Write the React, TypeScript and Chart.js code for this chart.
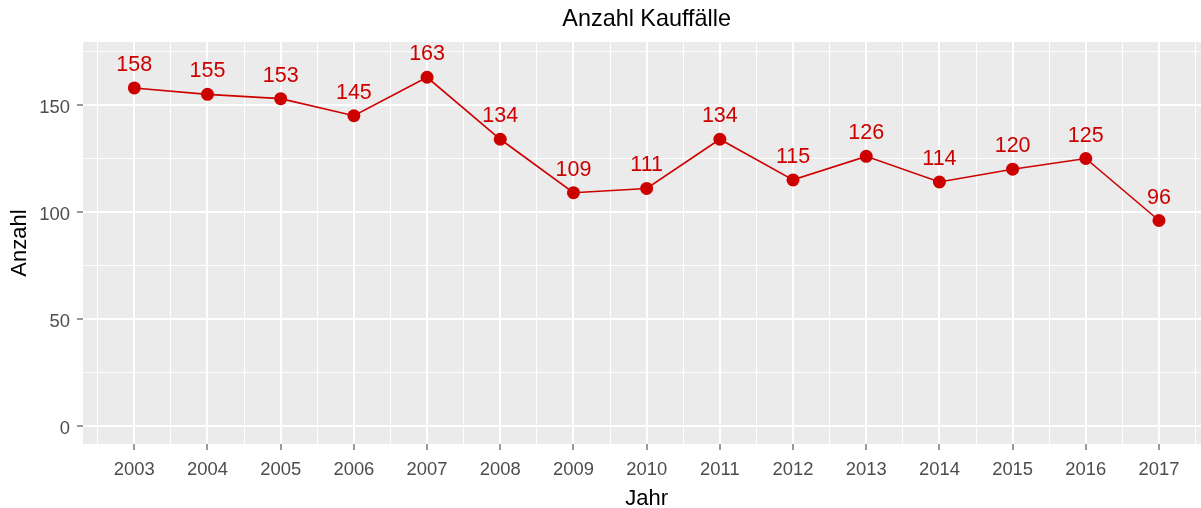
import React, { useEffect, useRef } from "react";
import { Chart, registerables } from "chart.js";

Chart.register(...registerables);

const years = [2003, 2004, 2005, 2006, 2007, 2008, 2009, 2010, 2011, 2012, 2013, 2014, 2015, 2016, 2017];
const counts = [158, 155, 153, 145, 163, 134, 109, 111, 134, 115, 126, 114, 120, 125, 96];
const yTicks = [0, 25, 50, 75, 100, 125, 150, 175];
const xTicks = [2002.5, 2003, 2003.5, 2004, 2004.5, 2005, 2005.5, 2006, 2006.5, 2007, 2007.5, 2008, 2008.5, 2009, 2009.5, 2010, 2010.5, 2011, 2011.5, 2012, 2012.5, 2013, 2013.5, 2014, 2014.5, 2015, 2015.5, 2016, 2016.5, 2017, 2017.5];
const titleText = "Anzahl Kauffälle";
const xTitleText = "Jahr";
const yTitleText = "Anzahl";

const RED = "#CD0000";
const FONT = "'Liberation Sans', Arial, sans-serif";

const panelBg = {
  id: "panelBg",
  beforeDraw(chart: any) {
    const { ctx, chartArea } = chart;
    ctx.save();
    ctx.fillStyle = "#EBEBEB";
    ctx.fillRect(chartArea.left, chartArea.top, chartArea.right - chartArea.left, chartArea.bottom - chartArea.top);
    ctx.restore();
  },
};

const plotTitles = {
  id: "plotTitles",
  afterDraw(chart: any) {
    const { ctx } = chart;
    const xs = chart.scales.x;
    // centre over the full (expanded) panel, which extends past the canvas edge
    const cx = (xs.getPixelForValue(2002.3) + xs.getPixelForValue(2017.7)) / 2;
    ctx.save();
    ctx.fillStyle = "#000000";
    ctx.textAlign = "center";
    ctx.textBaseline = "alphabetic";
    ctx.font = `23.4px ${FONT}`;
    ctx.fillText(titleText, cx, 26);
    ctx.font = `22px ${FONT}`;
    ctx.fillText(xTitleText, cx, 504.5);
    ctx.restore();
  },
};

const valueLabels = {
  id: "valueLabels",
  afterDatasetsDraw(chart: any) {
    const { ctx } = chart;
    const meta = chart.getDatasetMeta(0);
    ctx.save();
    ctx.font = `21.5px ${FONT}`;
    ctx.fillStyle = RED;
    ctx.textAlign = "center";
    ctx.textBaseline = "alphabetic";
    meta.data.forEach((pt: any, i: number) => {
      ctx.fillText(String(counts[i]), pt.x, pt.y - 17);
    });
    ctx.restore();
  },
};

export default function App() {
  const ref = useRef<HTMLCanvasElement>(null);
  useEffect(() => {
    if (!ref.current) return;
    const chart = new Chart(ref.current, {
      type: "line",
      data: {
        datasets: [
          {
            data: years.map((y, i) => ({ x: y, y: counts[i] })),
            borderColor: RED,
            borderWidth: 1.6,
            backgroundColor: RED,
            pointBackgroundColor: RED,
            pointBorderWidth: 0,
            pointRadius: 6.5,
            fill: false,
            tension: 0,
          },
        ],
      },
      options: {
        responsive: false,
        animation: false,
        layout: { padding: { top: 42, left: 0, right: 0, bottom: 0 }, autoPadding: false },
        plugins: {
          legend: { display: false },
          tooltip: { enabled: false },
          title: { display: false },
        },
        scales: {
          x: {
            type: "linear",
            min: 2002.299,
            max: 2017.574,
            afterBuildTicks: (s: any) => {
              s.ticks = xTicks.map((v) => ({ value: v }));
            },
            afterFit: (s: any) => {
              s.height = 64;
              s.paddingLeft = 0;
              s.paddingRight = 0;
            },
            border: { display: false },
            grid: {
              color: "#FFFFFF",
              lineWidth: (c: any) => (c.tick && Number.isInteger(c.tick.value) ? 2 : 1),
              drawTicks: true,
              tickLength: 6,
              tickWidth: 1,
              tickColor: (c: any) => (c.tick && Number.isInteger(c.tick.value) ? "#333333" : "rgba(0,0,0,0)"),
            },
            ticks: {
              autoSkip: false,
              maxRotation: 0,
              padding: 9,
              color: "#4D4D4D",
              font: { family: FONT, size: 18.4 },
              callback: (v: any) => (Number.isInteger(v) ? String(v) : ""),
            },
            title: { display: false },
          },
          y: {
            type: "linear",
            min: -8.55,
            max: 179.5,
            afterBuildTicks: (s: any) => {
              s.ticks = yTicks.map((v) => ({ value: v }));
            },
            afterFit: (s: any) => {
              s.width = 83;
              s.paddingTop = 0;
              s.paddingBottom = 0;
            },
            border: { display: false },
            grid: {
              color: "#FFFFFF",
              lineWidth: (c: any) => (c.tick && c.tick.value % 50 === 0 ? 2 : 1),
              drawTicks: true,
              tickLength: 6,
              tickWidth: 1,
              tickColor: (c: any) => (c.tick && c.tick.value % 50 === 0 ? "#333333" : "rgba(0,0,0,0)"),
            },
            ticks: {
              autoSkip: false,
              padding: 7,
              labelOffset: 3,
              color: "#4D4D4D",
              font: { family: FONT, size: 18.4 },
              callback: (v: any) => (v % 50 === 0 ? String(v) : ""),
            },
            title: {
              display: true,
              text: yTitleText,
              color: "#000000",
              font: { family: FONT, size: 22 },
              padding: { top: 7, bottom: 0 },
            },
          },
        },
      },
      plugins: [panelBg, valueLabels, plotTitles],
    } as any);
    return () => chart.destroy();
  }, []);

  return (
    <div style={{ position: "fixed", left: 0, top: 0, width: 1201, height: 508, overflow: "hidden", background: "#FFFFFF" }}>
      <canvas ref={ref} width={1201} height={508} style={{ display: "block", width: 1201, height: 508 }} />
    </div>
  );
}
